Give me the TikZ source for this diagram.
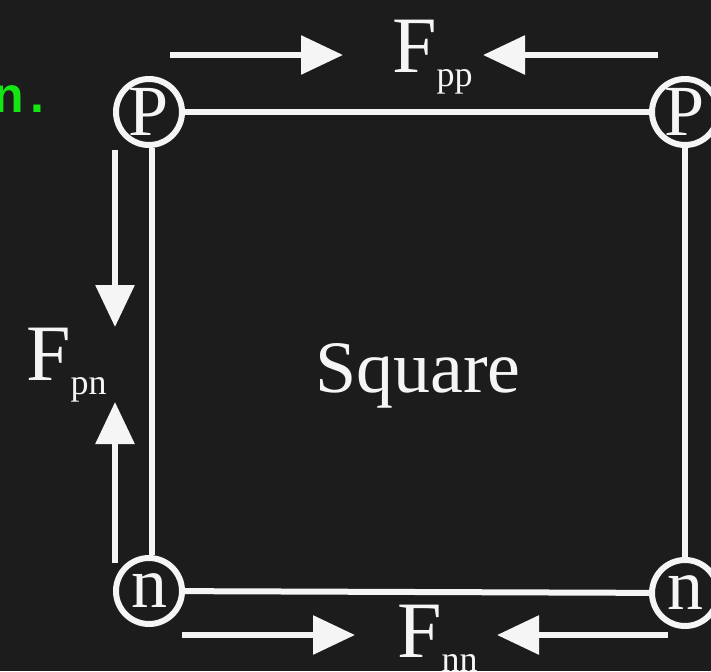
\documentclass[tikz,border=0pt]{standalone}
\usepackage{fontspec}
\setmainfont{Liberation Serif}
\newfontfamily\greenfont{Liberation Sans}
\usetikzlibrary{arrows.meta}
\definecolor{bgdark}{RGB}{28,28,28}
\definecolor{fgwhite}{RGB}{245,245,245}
\definecolor{greentxt}{RGB}{20,230,20}
\tikzset{
  corner/.style={circle, draw=fgwhite, line width=6pt, minimum size=66pt, inner sep=0pt,
    text=fgwhite, font=\fontsize{72}{72}\selectfont},
  edge/.style={draw=fgwhite, line width=6pt},
  force/.style={draw=fgwhite, line width=6pt, -{Triangle[length=42pt,width=38pt]}},
  flabel/.style={anchor=base west, inner sep=0pt, text=fgwhite, font=\fontsize{80}{80}\selectfont}
}
\newcommand{\fsub}[1]{\raisebox{-14pt}{\fontsize{36}{36}\selectfont #1}}
\begin{document}
\begin{tikzpicture}[x=1pt,y=-1pt]
  \fill[bgdark] (0,0) rectangle (711,671);
  \useasboundingbox (0,0) rectangle (711,671);

  % corner particles
  \node[corner] (pTL) at (149,112) {P};
  \node[corner] (pTR) at (685,112) {P};
  \node[corner] (nBL) at (149,591) {n};
  \node[corner] (nBR) at (685,593) {n};

  % square edges
  \draw[edge] (pTL) -- (pTR);
  \draw[edge] (nBL) -- (nBR);
  \draw[edge] (pTL.south) ++(3,0) coordinate (lt) -- (lt |- nBL.north);
  \draw[edge] (pTR) -- (nBR);

  % force arrows
  \coordinate (a1s) at (170,55);  \coordinate (a1e) at (343,55);
  \coordinate (a2s) at (658,55);  \coordinate (a2e) at (483,55);
  \coordinate (a3s) at (115,150); \coordinate (a3e) at (115,327);
  \coordinate (a4s) at (115,563); \coordinate (a4e) at (115,402);
  \coordinate (a5s) at (182,635); \coordinate (a5e) at (355,635);
  \coordinate (a6s) at (668,635); \coordinate (a6e) at (497,635);
  \draw[force] (a1s) -- (a1e);
  \draw[force] (a2s) -- (a2e);
  \draw[force] (a3s) -- (a3e);
  \draw[force] (a4s) -- (a4e);
  \draw[force] (a5s) -- (a5e);
  \draw[force] (a6s) -- (a6e);

  % labels
  \node[flabel] (fpp) at (392,73) {F\fsub{pp}};
  \node[flabel] (fnn) at (397,657) {F\fsub{nn}};
  \node[flabel] (fpn) at (26,380) {F\fsub{pn}};
  \node[anchor=base, inner sep=0pt, text=fgwhite, font=\fontsize{74}{74}\selectfont] (sq) at (418,392) {Square};

  % partial green text at the left edge
  \node[anchor=base east, inner sep=0pt, text=greentxt, font=\greenfont\bfseries\fontsize{50}{50}\selectfont] (gn) at (45,113) {n\kern7pt.};
\end{tikzpicture}
\end{document}
